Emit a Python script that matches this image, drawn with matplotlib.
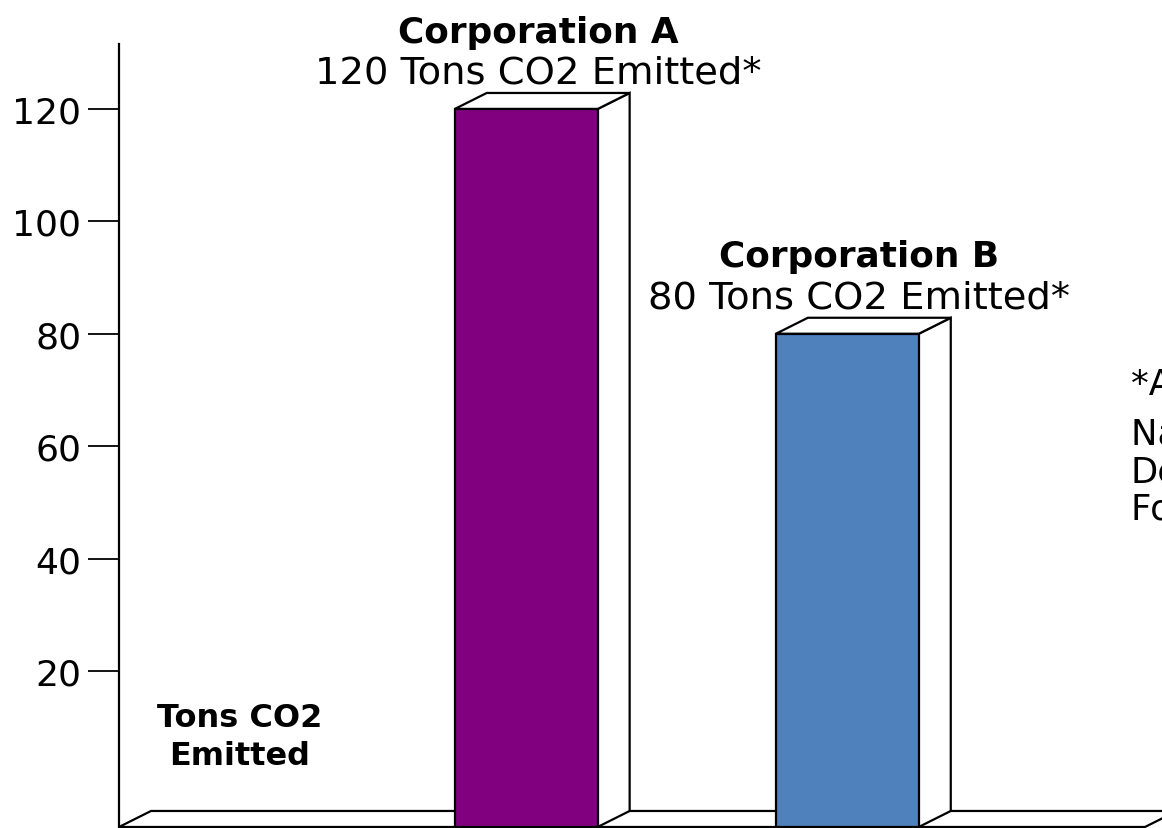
import matplotlib.pyplot as plt
from matplotlib.patches import Polygon

# emissions per company
companies = ["Corporation A", "Corporation B"]
emissions = [120, 80]
bar_colors = ["#800080", "#4F81BD"]
yticks = [20, 40, 60, 80, 100, 120]
note_lines = ["*According to the", "National Energy", "Department", "For 2007"]

# geometry of the fake 3d chart (x in category units, y in tons)
positions = [1, 2]
bar_w = 0.445
dx, dy = 0.0997, 2.85      # depth offset of the box faces
floor = -7.76
x_left, x_right = -0.268, 2.980

fig = plt.figure(figsize=(11.62, 8.29), dpi=100)
ax = fig.add_axes([119 / 1162, 0, 1 - 119 / 1162, 1])
ax.set_xlim(x_left, x_right)
ax.set_ylim(-7.94, 139.57)

for s in ["top", "right", "bottom"]:
    ax.spines[s].set_visible(False)
ax.spines["left"].set_linewidth(1.6)
ax.spines["left"].set_bounds(floor, 131.6)
ax.set_xticks([])
ax.set_yticks(yticks)
ax.tick_params(axis="y", length=22, width=1.3, pad=5, labelsize=26)

lw = 1.6
# floor of the chart
floor_end = 2.927
ax.add_patch(Polygon([(x_left, floor), (floor_end, floor),
                      (floor_end + dx, floor + dy), (x_left + dx, floor + dy)],
                     closed=True, fc="white", ec="black", lw=lw, zorder=1))

for pos, val, col, name in zip(positions, emissions, bar_colors, companies):
    x0 = pos - bar_w / 2
    x1 = pos + bar_w / 2
    # side face
    ax.add_patch(Polygon([(x1, floor), (x1 + dx, floor + dy),
                          (x1 + dx, val + dy), (x1, val)],
                         closed=True, fc="white", ec="black", lw=lw, zorder=2))
    # top face
    ax.add_patch(Polygon([(x0, val), (x1, val), (x1 + dx, val + dy),
                          (x0 + dx, val + dy)],
                         closed=True, fc="white", ec="black", lw=lw, zorder=2))
    # front face
    ax.add_patch(Polygon([(x0, floor), (x1, floor), (x1, val), (x0, val)],
                         closed=True, fc=col, ec="black", lw=lw, zorder=3))

    xc = pos + 0.037
    ax.annotate(f"{val} Tons CO2 Emitted*", xy=(xc, val), xytext=(0, 19),
                textcoords="offset points", ha="center", va="baseline",
                fontsize=27.7)
    ax.annotate(name, xy=(xc, val), xytext=(0, 48.5),
                textcoords="offset points", ha="center", va="baseline",
                fontsize=25.8, fontweight="bold")

# series name in the corner
ax.text(0.107, 10.2, "Tons CO2", ha="center", va="baseline",
        fontsize=23, fontweight="bold")
ax.text(0.107, 3.45, "Emitted", ha="center", va="baseline",
        fontsize=23, fontweight="bold")

# footnote at the right, running off the edge
note_y = [69.3, 60.4, 53.6, 47.2]
for txt, ny in zip(note_lines, note_y):
    ax.text(2.883, ny, txt, ha="left", va="baseline", fontsize=25.5,
            clip_on=False)

fig.savefig("out.png", dpi=100)
